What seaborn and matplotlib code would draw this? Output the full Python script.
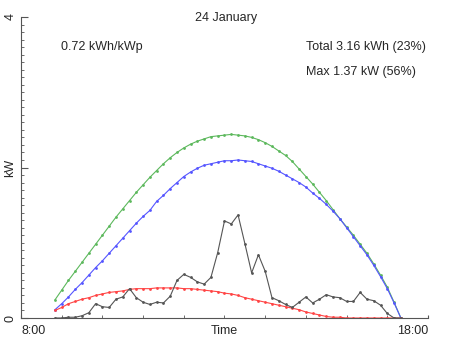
import numpy as np
import pandas as pd
import matplotlib
matplotlib.use("Agg")
import matplotlib.pyplot as plt
import seaborn as sns

# ---- data (10-minute samples, 08:50 .. 17:20) ----
times = pd.date_range("2000-01-24 08:50", periods=52, freq="10min")
hours = times.hour + times.minute / 60.0

clear_sky = [0.24, 0.37, 0.50, 0.62, 0.74, 0.86, 0.98, 1.10, 1.22, 1.34,
             1.45, 1.56, 1.67, 1.77, 1.87, 1.96, 2.05, 2.13, 2.20, 2.26,
             2.31, 2.35, 2.38, 2.41, 2.42, 2.43, 2.44, 2.43, 2.42, 2.40,
             2.37, 2.33, 2.28, 2.22, 2.16, 2.08, 1.98, 1.88, 1.78, 1.67,
             1.56, 1.44, 1.32, 1.21, 1.10, 0.98, 0.86, 0.72, 0.57, 0.41,
             0.21, 0.00]
expected = [0.11, 0.19, 0.28, 0.38, 0.47, 0.57, 0.67, 0.76, 0.86, 0.96,
            1.06, 1.16, 1.26, 1.35, 1.43, 1.55, 1.63, 1.72, 1.80, 1.88,
            1.94, 1.99, 2.03, 2.05, 2.07, 2.09, 2.09, 2.10, 2.09, 2.08,
            2.05, 2.02, 1.99, 1.95, 1.90, 1.85, 1.80, 1.74, 1.66, 1.59,
            1.51, 1.42, 1.32, 1.20, 1.08, 0.96, 0.84, 0.70, 0.55, 0.39,
            0.20, 0.00]
diffuse = [0.10, 0.14, 0.19, 0.22, 0.25, 0.27, 0.30, 0.32, 0.34, 0.35,
           0.36, 0.38, 0.39, 0.39, 0.39, 0.40, 0.40, 0.40, 0.40, 0.39,
           0.39, 0.38, 0.37, 0.36, 0.35, 0.33, 0.32, 0.30, 0.27, 0.25,
           0.23, 0.21, 0.19, 0.17, 0.15, 0.13, 0.11, 0.08, 0.06, 0.04,
           0.02, 0.01, 0.01, 0.00, 0.00, 0.00, 0.00, 0.00, 0.00, 0.00,
           0.00, 0.00]
measured = [0.00, 0.00, 0.01, 0.01, 0.03, 0.07, 0.19, 0.15, 0.14, 0.25,
            0.28, 0.39, 0.27, 0.21, 0.18, 0.21, 0.20, 0.29, 0.50, 0.58,
            0.54, 0.48, 0.45, 0.54, 0.87, 1.29, 1.25, 1.37, 0.99, 0.60,
            0.84, 0.62, 0.27, 0.23, 0.18, 0.14, 0.21, 0.28, 0.20, 0.25,
            0.31, 0.28, 0.27, 0.22, 0.22, 0.34, 0.25, 0.23, 0.17, 0.06,
            0.00, 0.00]

series_names = ["clear", "expected", "diffuse", "measured"]
series_colors = ["#5cb85c", "#5555ff", "#ff4444", "#555555"]

title = "24 January"
yield_text = "0.72 kWh/kWp"
total_text = "Total 3.16 kWh (23%)"
max_text = "Max 1.37 kW (56%)"

df = pd.concat([
    pd.DataFrame({"hour": hours, "kW": clear_sky, "series": "clear"}),
    pd.DataFrame({"hour": hours, "kW": expected, "series": "expected"}),
    pd.DataFrame({"hour": hours, "kW": diffuse, "series": "diffuse"}),
    pd.DataFrame({"hour": hours, "kW": measured, "series": "measured"}),
], ignore_index=True)

sns.set_style("white")
plt.rcParams["font.family"] = ["Liberation Sans", "DejaVu Sans"]

fig = plt.figure(figsize=(4.52, 3.39), dpi=100)
ax = fig.add_axes([21 / 452, 1 - 318 / 339, 407 / 452, 301 / 339])

sns.lineplot(data=df, x="hour", y="kW", hue="series", hue_order=series_names,
             palette=dict(zip(series_names, series_colors)),
             marker="o", markersize=2, markeredgewidth=0, linewidth=0.8,
             legend=False, ax=ax, estimator=None, sort=False)

ax.set_xlim(8, 18)
ax.set_ylim(0, 4)

for s in ["top", "right"]:
    ax.spines[s].set_visible(False)
for s in ["left", "bottom"]:
    ax.spines[s].set_color("#555555")
    ax.spines[s].set_linewidth(0.8)

# x ticks
ax.set_xticks([8, 18])
ax.set_xticklabels(["8:00", "18:00"], fontsize=9)
ax.get_xticklabels()[0].set_ha("left")
ax.get_xticklabels()[1].set_ha("right")
ax.set_xticks(np.arange(8, 19, 1), minor=True)
ax.tick_params(axis="x", which="both", direction="in", length=2.5,
               color="#555555", pad=5, bottom=True)
ax.set_xlabel("")
ax.text(0.5, -0.022, "Time", transform=ax.transAxes, ha="center", va="top",
        fontsize=9)

# y ticks
ax.set_yticks([0, 2, 4])
ax.set_yticklabels(["0", "", "4"], fontsize=9, rotation=90, va="center")
ax.set_yticks(np.arange(0, 4.01, 0.1), minor=True)
ax.tick_params(axis="y", which="major", direction="in", length=5,
               color="#555555", pad=3, left=True)
ax.tick_params(axis="y", which="minor", direction="in", length=2.5,
               color="#555555", left=True)
ax.set_ylabel("kW", fontsize=9)
ax.yaxis.set_label_coords(-0.012, 0.5)

fig.text(226 / 452, 1 - 18 / 339, title, ha="center", va="center", fontsize=9)
fig.text(61 / 452, 1 - 47 / 339, yield_text, ha="left", va="center", fontsize=9)
fig.text(306 / 452, 1 - 47 / 339, total_text, ha="left", va="center", fontsize=9)
fig.text(306 / 452, 1 - 72 / 339, max_text, ha="left", va="center", fontsize=9)

fig.savefig("out.png", dpi=100)
